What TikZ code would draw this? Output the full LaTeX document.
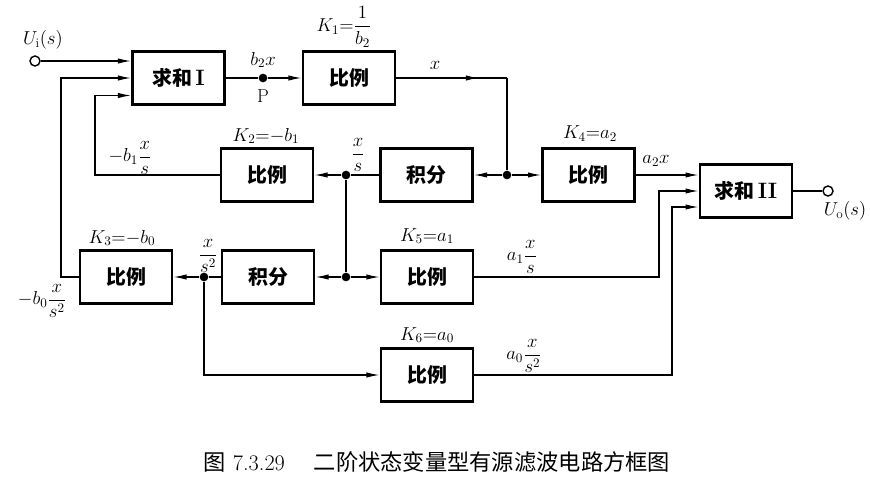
\RequirePackage{fix-cm}
\documentclass[tikz,border=0pt]{standalone}
\usepackage{amsmath}
\usepackage{fontspec}
\newfontfamily\cjk{Noto Sans CJK SC}
\usepackage{tikz}
\usetikzlibrary{arrows.meta,calc,positioning,decorations.markings}

\begin{document}
\begin{tikzpicture}[x=0.03cm,y=-0.03cm,line width=1.2pt,
	box/.style={draw,line width=2pt,minimum width=2.76cm,minimum height=1.58cm,font=\fontsize{17}{17}\selectfont\cjk\bfseries},
	dot/.style={circle,fill,inner sep=0pt,minimum size=2.6mm},
	port/.style={circle,draw,fill=white,inner sep=0pt,minimum size=3mm,line width=1.2pt},
	lbl/.style={font=\fontsize{16}{16}\selectfont,inner sep=1pt},
	midarr/.style={postaction={decorate},decoration={markings,mark=at position 0.75 with {\arrow{>}}}},
	>={Latex[length=4mm,width=1.6mm]}]
	\useasboundingbox (0,0) rectangle (870,479);

	% blocks
	\node[box] (sumI) at (178.5,78) {求和\,{\rmfamily\fontsize{19}{19}\selectfont I}};
	\node[box] (kone) at (349,78) {比例};
	\node[box] (ktwo) at (267,175) {比例};
	\node[box] (intone) at (426.5,175) {积分};
	\node[box] (kfour) at (588.5,175) {比例};
	\node[box] (sumII) at (746,191) {求和\,{\rmfamily\fontsize{19}{19}\selectfont II}};
	\node[box] (kthree) at (126,277) {比例};
	\node[box] (inttwo) at (268,277) {积分};
	\node[box] (kfive) at (427,277) {比例};
	\node[box] (ksix) at (427,375) {比例};

	% ports and junctions
	\node[port] (uin) at (35,61) {};
	\node[port] (uout) at (828,191) {};
	\node[dot] (p) at (263,78) {};
	\node[dot] (ja) at (507,175) {};
	\node[dot] (jb) at (346,175) {};
	\node[dot] (jc) at (346,277) {};
	\node[dot] (jd) at (204,277) {};

	% connectors
	\draw[->] (uin) -- (uin -| sumI.west);
	\draw[->] (kthree.west) -- ++(-18,0) |- (sumI.west);
	\draw[->] (ktwo.west) -- ++(-125,0) |- ($(sumI.west)+(0,17.5)$);
	\draw (sumI.east) -- (p);
	\draw[->] (p) -- (kone.west);
	\draw[midarr] (kone.east) -- (kone.east -| ja);
	\draw (kone.east -| ja) -- (ja);
	\draw[->] (ja) -- (intone.east);
	\draw[->] (ja) -- (kfour.west);
	\draw (intone.west) -- (jb);
	\draw[->] (jb) -- (ktwo.east);
	\draw (jb) -- (jc);
	\draw[->] (jc) -- (inttwo.east);
	\draw[->] (jc) -- (kfive.west);
	\draw (inttwo.west) -- (jd);
	\draw[->] (jd) -- (kthree.east);
	\draw[->] (jd) |- (ksix.west);
	\draw[->] (kfour.east) -- (kfour.east -| sumII.west);
	\draw[->] (kfive.east) -- ++(185,0) |- (sumII.west);
	\draw[->] (ksix.east) -- ++(198,0) |- ($(sumII.west)+(0,16)$);
	\draw (sumII.east) -- (uout);

	% labels
	\node[lbl] (luin) at (43,40) {$U_{\mathrm{i}}(s)$};
	\node[lbl] (luout) at (845,211) {$U_{\mathrm{o}}(s)$};
	\node[lbl] (lbtwo) at (263,60) {$b_2x$};
	\node[lbl] (lp) at (263,96) {P};
	\node[lbl] (lkone) at (344,27) {$K_1{=}\dfrac{1}{b_2}$};
	\node[lbl] (lx) at (435,65) {$x$};
	\node[lbl] (lktwo) at (266,136) {$K_2{=}{-}b_1$};
	\node[lbl] (lbone) at (130,158) {$-b_1\dfrac{x}{s}$};
	\node[lbl] (lxs) at (358,155) {$\dfrac{x}{s}$};
	\node[lbl] (lkfour) at (590,134) {$K_4{=}a_2$};
	\node[lbl] (latwo) at (656,161) {$a_2x$};
	\node[lbl] (lkthree) at (122,238) {$K_3{=}{-}b_0$};
	\node[lbl] (lxss) at (208,256) {$\dfrac{x}{s^2}$};
	\node[lbl] (lbzero) at (42,301) {$-b_0\dfrac{x}{s^2}$};
	\node[lbl] (lkfive) at (427,236) {$K_5{=}a_1$};
	\node[lbl] (laone) at (522,257) {$a_1\dfrac{x}{s}$};
	\node[lbl] (lksix) at (427,335) {$K_6{=}a_0$};
	\node[lbl] (lazero) at (524,356) {$a_0\dfrac{x}{s^2}$};

	\node[font=\fontsize{19}{19}\selectfont] (cap) at (437,462) {{\cjk 图}\ 7.3.29\hspace{1.3em}{\cjk 二阶状态变量型有源滤波电路方框图}};
\end{tikzpicture}
\end{document}
